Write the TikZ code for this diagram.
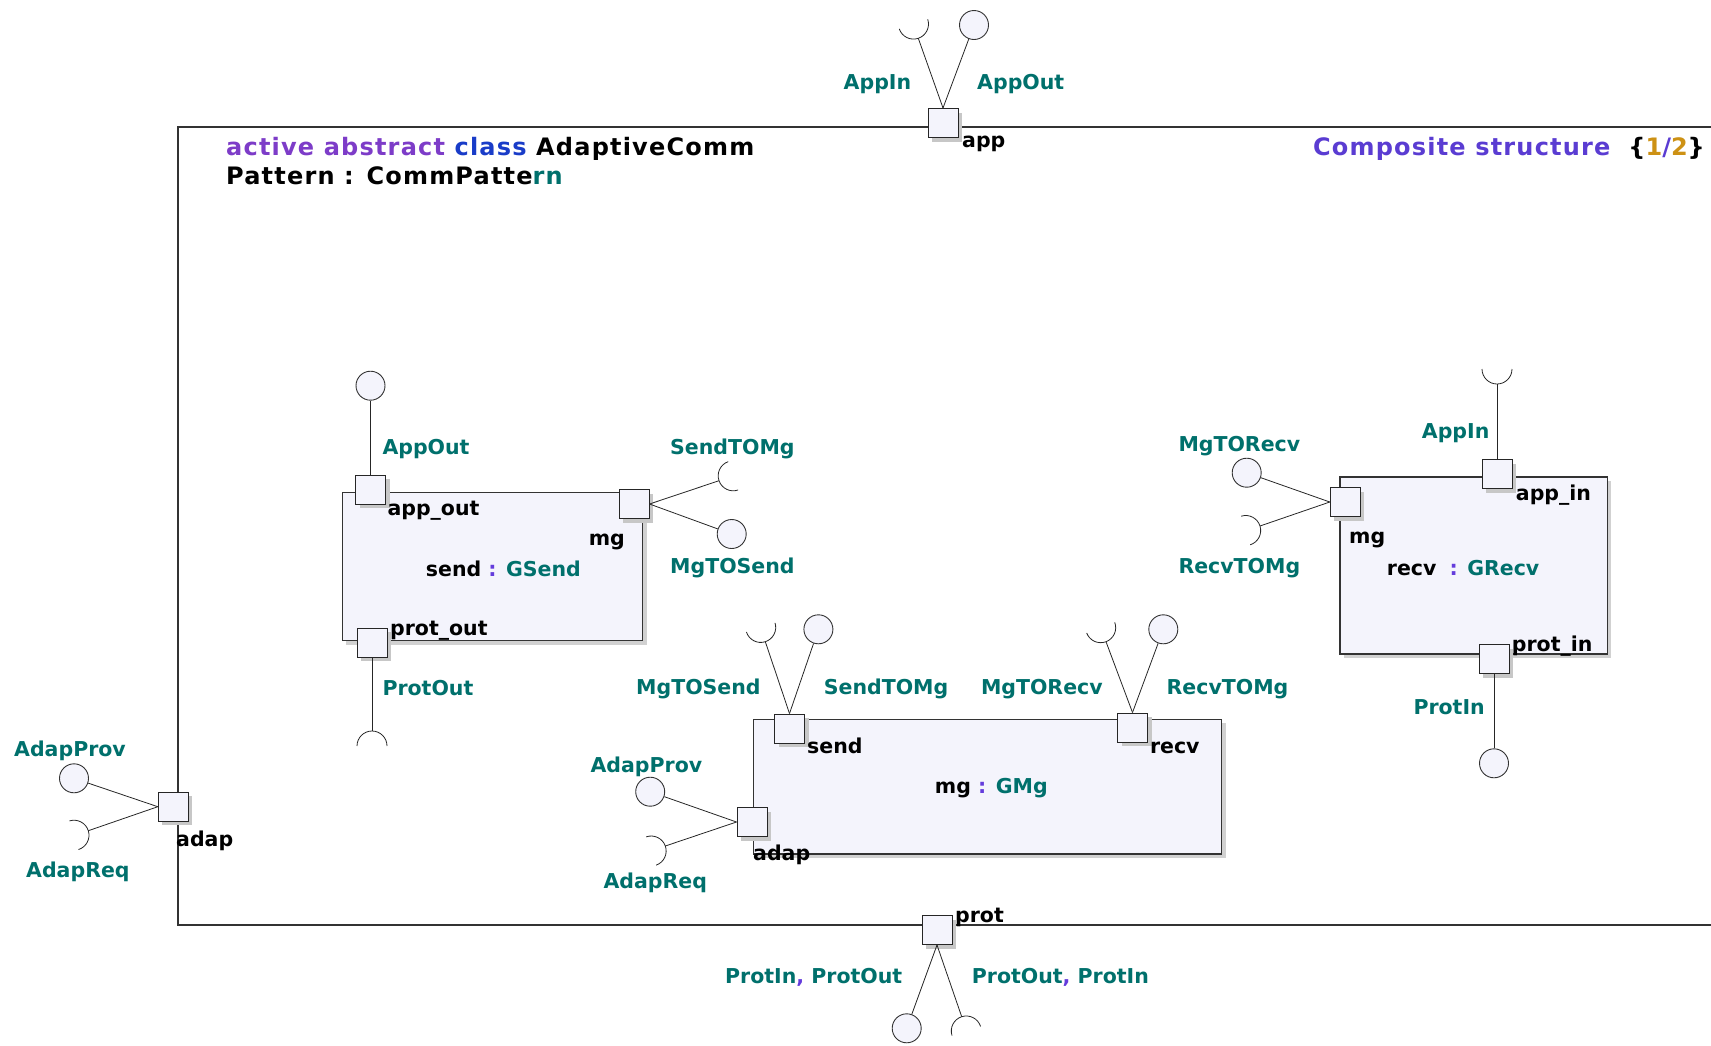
\documentclass[tikz,border=0pt]{standalone}
\usepackage{fontspec}
\setmainfont{DejaVu Sans}
\newfontfamily\hdrfont{DejaVu Sans}[LetterSpace=5]
\usetikzlibrary{calc,shadows}
\definecolor{lav}{RGB}{244,244,252}
\definecolor{tealc}{RGB}{0,112,108}
\definecolor{purp}{RGB}{125,60,200}
\definecolor{bluec}{RGB}{25,60,200}
\definecolor{compc}{RGB}{90,60,210}
\definecolor{goldc}{RGB}{205,145,20}
\definecolor{colonc}{RGB}{100,60,220}
\newcommand\sockarc[2]{\draw[conn] ($(#1)+(#2:15)+(#2+90:15)$) arc[start angle=#2+90, end angle=#2+270, radius=15];}
\begin{document}
\begin{tikzpicture}[x=1pt,y=-1pt,
  conn/.style={draw=black!85, line width=0.8pt},
  framec/.style={draw=black!80, line width=1.2pt},
  partbox/.style={draw=black!80, fill=lav, line width=1.2pt, anchor=north west, inner sep=0,
     drop shadow={shadow xshift=4pt, shadow yshift=-4pt, fill=black!18, opacity=1}},
  port/.style={draw=black!85, fill=lav, minimum width=30, minimum height=29, inner sep=0, line width=1pt,
     drop shadow={shadow xshift=4pt, shadow yshift=-4pt, fill=black!22, opacity=1}},
  prov/.style={circle, draw=black!80, fill=lav, minimum size=29, inner sep=0, line width=0.9pt},
  lbl/.style={anchor=base west, inner sep=0, font=\bfseries\fontsize{20.5}{24}\selectfont, text=tealc},
  blk/.style={lbl, text=black},
  hdr/.style={anchor=base west, inner sep=0, font=\hdrfont\bfseries\fontsize{24}{28}\selectfont, text=black}
]
\useasboundingbox (0,0) rectangle (1711,1045);

% frame
\draw[framec] (1711,127) -- (178,127) -- (178,925) -- (1711,925);

% header
\node[hdr] (hdr1) at (226,155) {\textcolor{purp}{active abstract} \textcolor{bluec}{class} AdaptiveComm};
\node[hdr] (hdr2) at (226,184) {Pattern : CommPatte\textcolor{tealc}{rn}};
\node[hdr, anchor=base east] (hdr3) at (1705,155) {\textcolor{compc}{Composite structure}\hspace{18pt}\{\textcolor{goldc}{1}\textcolor{compc}{/}\textcolor{goldc}{2}\}};

% parts
\node[partbox, minimum width=300.5, minimum height=148.5] (sendPart) at (341.5,491.7) {};
\node[partbox, minimum width=267.4, minimum height=177] (recvPart) at (1339.3,476.3) {};
\node[partbox, minimum width=468, minimum height=134.8] (mgPart) at (753,718.5) {};

% ports
\node[port] (pApp) at (943,123) {};
\node[port] (pAdap) at (173.3,806.7) {};
\node[port] (pProt) at (937,930) {};
\node[port] (sApp) at (370.5,489.5) {};
\node[port] (sMg) at (634,504) {};
\node[port] (sProt) at (372,642.7) {};
\node[port] (rApp) at (1497,474) {};
\node[port] (rMg) at (1345.3,502) {};
\node[port] (rProt) at (1494,659) {};
\node[port] (mSend) at (789.5,728.5) {};
\node[port] (mRecv) at (1132.5,727.5) {};
\node[port] (mAdap) at (752,822) {};

% provided interfaces (balls)
\node[prov] (cAppOut) at (974,25) {};
\node[prov] (cSendAppOut) at (370.5,385.7) {};
\node[prov] (cMgTOSend) at (731.7,534) {};
\node[prov] (cMgTORecv) at (1246.7,472.7) {};
\node[prov] (cProtIn) at (1494,763.3) {};
\node[prov] (cSendTOMg) at (818.4,629.3) {};
\node[prov] (cRecvTOMg) at (1163.3,629.3) {};
\node[prov] (cAdapProvM) at (650.2,791.7) {};
\node[prov] (cAdapProv) at (74,778.3) {};
\node[prov] (cProt) at (906.7,1028.3) {};

% required interfaces (sockets)
\coordinate (kAppIn) at (918.3,38.3);
\coordinate (kSendTOMg) at (719,480.7);
\coordinate (kProtOut) at (372,731);
\coordinate (kRAppIn) at (1497,384);
\coordinate (kRecvTOMg) at (1260,526);
\coordinate (kMgTOSend) at (765.3,641.7);
\coordinate (kMgTORecv) at (1106,641.7);
\coordinate (kAdapReqM) at (665.3,846);
\coordinate (kAdapReq) at (88.3,830.7);
\coordinate (kProt) at (961.7,1016.7);

\sockarc{kAppIn}{-108.7}
\sockarc{kSendTOMg}{-19.1}
\sockarc{kProtOut}{90}
\sockarc{kRAppIn}{-90}
\sockarc{kRecvTOMg}{162.6}
\sockarc{kMgTOSend}{-107.8}
\sockarc{kMgTORecv}{-110.7}
\sockarc{kAdapReqM}{160.5}
\sockarc{kAdapReq}{162.5}
\sockarc{kProt}{72.2}

% connectors
\draw[conn] (pApp.north) -- (kAppIn);
\draw[conn] (pApp.north) -- (cAppOut);
\draw[conn] (sApp.north) -- (cSendAppOut);
\draw[conn] (sMg.east) -- (kSendTOMg);
\draw[conn] (sMg.east) -- (cMgTOSend);
\draw[conn] (sProt.south) -- (kProtOut);
\draw[conn] (rApp.north) -- (kRAppIn);
\draw[conn] (rMg.west) -- (kRecvTOMg);
\draw[conn] (rMg.west) -- (cMgTORecv);
\draw[conn] (rProt.south) -- (cProtIn);
\draw[conn] (mSend.north) -- (kMgTOSend);
\draw[conn] (mSend.north) -- (cSendTOMg);
\draw[conn] (mRecv.north) -- (kMgTORecv);
\draw[conn] (mRecv.north) -- (cRecvTOMg);
\draw[conn] (mAdap.west) -- (kAdapReqM);
\draw[conn] (mAdap.west) -- (cAdapProvM);
\draw[conn] (pAdap.west) -- (kAdapReq);
\draw[conn] (pAdap.west) -- (cAdapProv);
\draw[conn] (pProt.south) -- (kProt);
\draw[conn] (pProt.south) -- (cProt);

% labels: outer
\node[lbl] (tAppIn) at (843.5,89) {AppIn};
\node[lbl] (tAppOut) at (977,89) {AppOut};
\node[blk] (tapp) at (962,147) {app};
\node[lbl] (tAdapProv) at (14,756.7) {AdapProv};
\node[lbl] (tAdapReq) at (26,877.3) {AdapReq};
\node[blk] (tadap) at (176,846.7) {adap};
\node[blk] (tprot) at (955,922.7) {prot};
\node[lbl] (tProtL) at (725,983.3) {ProtIn\textcolor{colonc}{,} ProtOut};
\node[lbl] (tProtR) at (971.7,983.3) {ProtOut\textcolor{colonc}{,} ProtIn};

% labels: send part
\node[lbl] (tsAppOut) at (382.3,454.3) {AppOut};
\node[blk] (tsapp) at (387.3,515) {app\_out};
\node[blk, anchor=base east] (tsmg) at (625,545) {mg};
\node[blk] (tsname) at (425.7,576.7) {send \textcolor{colonc}{:} \textcolor{tealc}{GSend}};
\node[blk] (tsprot) at (390,635.5) {prot\_out};
\node[lbl] (tsProtOut) at (382.3,695) {ProtOut};
\node[lbl] (tsSendTOMg) at (670,454) {SendTOMg};
\node[lbl] (tsMgTOSend) at (670,573) {MgTOSend};

% labels: recv part
\node[lbl] (trAppIn) at (1421.7,438.3) {AppIn};
\node[blk] (trapp) at (1515.7,500) {app\_in};
\node[blk] (trmg) at (1349,543.3) {mg};
\node[blk] (trname) at (1386.7,575) {recv\hspace{6pt} \textcolor{colonc}{:} \textcolor{tealc}{GRecv}};
\node[blk] (trprot) at (1511.7,651.7) {prot\_in};
\node[lbl] (trProtIn) at (1413.3,714) {ProtIn};
\node[lbl] (trMgTORecv) at (1178.3,451.7) {MgTORecv};
\node[lbl] (trRecvTOMg) at (1178.3,573.3) {RecvTOMg};

% labels: mg part
\node[lbl] (tmMgTOSend) at (636,694) {MgTOSend};
\node[lbl] (tmSendTOMg) at (823.7,694) {SendTOMg};
\node[lbl] (tmMgTORecv) at (980.8,694) {MgTORecv};
\node[lbl] (tmRecvTOMg) at (1166.5,694) {RecvTOMg};
\node[blk] (tmsend) at (807,753.3) {send};
\node[blk] (tmrecv) at (1149.8,753) {recv};
\node[blk] (tmname) at (934.7,793.3) {mg \textcolor{colonc}{:} \textcolor{tealc}{GMg}};
\node[lbl] (tmAdapProv) at (590.4,772) {AdapProv};
\node[lbl] (tmAdapReq) at (603.4,888.5) {AdapReq};
\node[blk] (tmadap) at (753,860) {adap};
\end{tikzpicture}
\end{document}
